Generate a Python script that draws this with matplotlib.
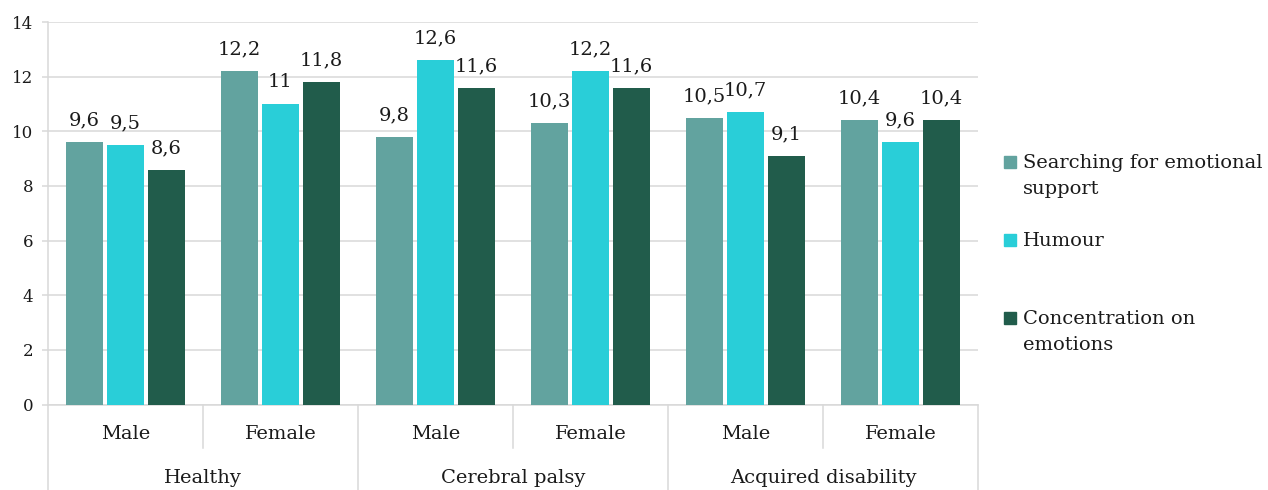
import matplotlib.pyplot as plt
from matplotlib.patches import Rectangle
import numpy as np

plt.rcParams['font.family'] = 'DejaVu Serif'

groups = ["Healthy", "Cerebral palsy", "Acquired disability"]
sexes = ["Male", "Female"]
series = ["Searching for emotional\nsupport", "Humour", "Concentration on\nemotions"]
emotional_support = [9.6, 12.2, 9.8, 10.3, 10.5, 10.4]
humour = [9.5, 11.0, 12.6, 12.2, 10.7, 9.6]
concentration = [8.6, 11.8, 11.6, 11.6, 9.1, 10.4]
values = [emotional_support, humour, concentration]
colors = ["#62A39F", "#29CED8", "#215C4B"]

grid_c = "#D9D9D9"
text_c = "#1a1a1a"

fig = plt.figure(figsize=(12.68, 4.9), dpi=100)
ax = fig.add_axes([48 / 1268, 85.5 / 490, 930 / 1268, 382.5 / 490])

x = np.arange(len(groups) * len(sexes))
width = 0.242
step = 0.265
for i, (vals, col) in enumerate(zip(values, colors)):
    bars = ax.bar(x + (i - 1) * step, vals, width, color=col, zorder=3)
    ax.bar_label(bars, labels=[f"{v:g}".replace(".", ",") for v in vals],
                 padding=9, fontsize=14, color=text_c)

ax.set_xlim(-0.5, len(x) - 0.5)
ax.set_ylim(0, 14)
ax.set_yticks(range(0, 15, 2))
ax.grid(axis="y", color=grid_c, linewidth=1.1, zorder=0)
ax.tick_params(axis="y", length=4.5, color=grid_c, width=1.1, labelsize=12,
               labelcolor=text_c, pad=6)
ax.set_xticks([])
for side in ["top", "right"]:
    ax.spines[side].set_visible(False)
ax.spines["left"].set_color(grid_c)
ax.spines["left"].set_linewidth(1.1)
ax.spines["bottom"].set_color(grid_c)
ax.spines["bottom"].set_linewidth(1.1)

# two-level category axis
tr = ax.get_xaxis_transform()
for k, xi in enumerate(x):
    ax.text(xi, -0.078, sexes[k % 2], transform=tr, ha="center", va="center",
            fontsize=14, color=text_c)
for g, name in enumerate(groups):
    ax.text(2 * g + 0.5, -0.192, name, transform=tr, ha="center", va="center",
            fontsize=14, color=text_c)
for b in np.arange(len(x) + 1) - 0.5:
    bottom = -0.23 if (b + 0.5) % 2 == 0 else -0.115
    ax.plot([b, b], [0, bottom], transform=tr, color=grid_c, lw=1.1,
            clip_on=False, zorder=1)

# legend with the marker aligned to the first line of each entry
for i, (name, col) in enumerate(zip(series, colors)):
    yc = 1 - (162 + 78 * i) / 490
    fig.add_artist(Rectangle((1004 / 1268, yc - 6 / 490), 12 / 1268, 12 / 490,
                             transform=fig.transFigure, color=col))
    fig.text(1023 / 1268, yc + 8 / 490, name, ha="left", va="top",
             fontsize=14, color=text_c, linespacing=1.55)

fig.savefig("out.png", dpi=100)
